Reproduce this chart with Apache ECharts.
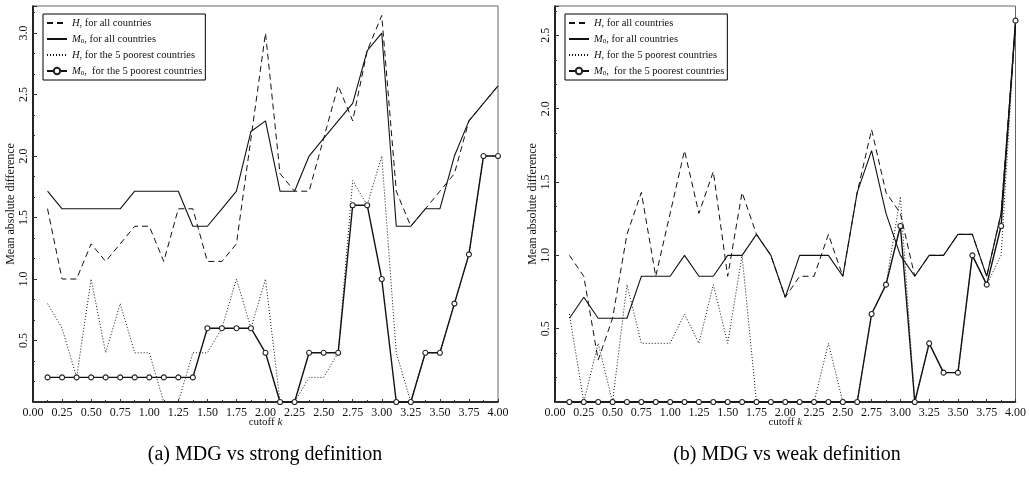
<!DOCTYPE html>
<html>
<head>
<meta charset="utf-8">
<title>Mean absolute difference by cutoff k</title>
<script src="https://cdn.jsdelivr.net/npm/echarts@6/dist/echarts.min.js"></script>
<style>
  html, body { margin: 0; padding: 0; background: #fff; }
  #chart { width: 1029px; height: 487px; }
</style>
</head>
<body>
<div id="chart"></div>
<script>
// Poverty cutoff k (x values shared by every series)
const cutoffs = [0.125, 0.25, 0.375, 0.5, 0.625, 0.75, 0.875, 1.0,
                 1.125, 1.25, 1.375, 1.5, 1.625, 1.75, 1.875, 2.0,
                 2.125, 2.25, 2.375, 2.5, 2.625, 2.75, 2.875, 3.0,
                 3.125, 3.25, 3.375, 3.5, 3.625, 3.75, 3.875, 4.0];

// (a) MDG vs strong definition
const hAllStrong = [1.571, 1.0, 1.0, 1.286, 1.143, 1.286, 1.429, 1.429,
                    1.143, 1.571, 1.571, 1.143, 1.143, 1.286, 2.143, 3.0,
                    1.857, 1.714, 1.714, 2.143, 2.571, 2.286, 2.857, 3.143,
                    1.714, 1.429, 1.571, 1.714, 1.857, 2.286, 2.429, 2.571];
const m0AllStrong = [1.714, 1.571, 1.571, 1.571, 1.571, 1.571, 1.714, 1.714,
                     1.714, 1.714, 1.429, 1.429, 1.571, 1.714, 2.2, 2.286,
                     1.714, 1.714, 2.0, 2.143, 2.286, 2.429, 2.857, 3.0,
                     1.429, 1.429, 1.571, 1.571, 2.0, 2.286, 2.429, 2.571];
const hPoorStrong = [0.8, 0.6, 0.2, 1.0, 0.4, 0.8, 0.4, 0.4,
                     0, 0, 0.4, 0.4, 0.6, 1.0, 0.6, 1.0,
                     0, 0, 0.2, 0.2, 0.4, 1.8, 1.6, 2.0,
                     0.4, 0, 0.4, 0.4, 0.8, 1.2, 2.0, 2.0];
const m0PoorStrong = [0.2, 0.2, 0.2, 0.2, 0.2, 0.2, 0.2, 0.2,
                      0.2, 0.2, 0.2, 0.6, 0.6, 0.6, 0.6, 0.4,
                      0, 0, 0.4, 0.4, 0.4, 1.6, 1.6, 1.0,
                      0, 0, 0.4, 0.4, 0.8, 1.2, 2.0, 2.0];

// (b) MDG vs weak definition
const hAllWeak = [1.0, 0.857, 0.286, 0.571, 1.143, 1.429, 0.857, 1.286,
                  1.714, 1.286, 1.571, 0.857, 1.429, 1.143, 1.0, 0.714,
                  0.857, 0.857, 1.143, 0.857, 1.429, 1.857, 1.429, 1.286,
                  0.857, 1.0, 1.0, 1.143, 1.143, 0.857, 1.286, 2.571];
const m0AllWeak = [0.571, 0.714, 0.571, 0.571, 0.571, 0.857, 0.857, 0.857,
                   1.0, 0.857, 0.857, 1.0, 1.0, 1.143, 1.0, 0.714,
                   1.0, 1.0, 1.0, 0.857, 1.429, 1.714, 1.286, 1.0,
                   0.857, 1.0, 1.0, 1.143, 1.143, 0.857, 1.286, 2.571];
const hPoorWeak = [0.6, 0, 0.4, 0, 0.8, 0.4, 0.4, 0.4,
                   0.6, 0.4, 0.8, 0.4, 1.0, 0, 0, 0,
                   0, 0, 0.4, 0, 0, 0.6, 0.8, 1.4,
                   0, 0.4, 0.2, 0.2, 1.0, 0.8, 1.0, 2.6];
const m0PoorWeak = [0, 0, 0, 0, 0, 0, 0, 0,
                    0, 0, 0, 0, 0, 0, 0, 0,
                    0, 0, 0, 0, 0, 0.6, 0.8, 1.2,
                    0, 0.4, 0.2, 0.2, 1.0, 0.8, 1.2, 2.6];

// Axis ticks and labels
const xTickStep = 0.25;
const yTickStep = 0.5;
const yMaxStrong = 3.22;
const yMaxWeak = 2.70;

// Series names and captions
const seriesNames = ['H, for all countries', 'M0, for all countries',
                     'H, for the 5 poorest countries', 'M0, for the 5 poorest countries'];
const legendRich = {
  'H, for all countries': '{i|H}, for all countries',
  'M0, for all countries': '{i|M}{s|0}, for all countries',
  'H, for the 5 poorest countries': '{i|H}, for the 5 poorest countries',
  'M0, for the 5 poorest countries': '{i|M}{s|0},  for the 5 poorest countries'
};
const captions = ['(a) MDG vs strong definition', '(b) MDG vs weak definition'];
const yTitle = 'Mean absolute difference';

const SERIF = 'Liberation Serif';
const INK = '#111';

const pairs = vals => cutoffs.map((k, i) => [k, vals[i]]);

const chart = echarts.init(document.getElementById('chart'), null, { renderer: 'canvas' });

const grids = [
  { left: 33, right: 531, top: 6, bottom: 85 },
  { left: 555, right: 10, top: 6, bottom: 85 }
];

function xAxisFor(idx) {
  return {
    type: 'value', gridIndex: idx, min: 0, max: 4, interval: xTickStep,
    name: 'cutoff {i|k}', nameLocation: 'middle', nameGap: 15, nameMoveOverlap: false,
    nameTextStyle: { fontFamily: SERIF, fontSize: 11, color: INK,
      rich: { i: { fontStyle: 'italic', fontFamily: SERIF, fontSize: 11, color: INK } } },
    axisLine: { onZero: false, lineStyle: { color: '#000', width: 1.6 } },
    axisTick: { inside: true, length: 3, lineStyle: { color: '#333' } },
    minorTick: { show: true, splitNumber: 2, length: 2, lineStyle: { color: '#333' } },
    splitLine: { show: false },
    axisLabel: { margin: 5, fontFamily: SERIF, fontSize: 12, color: INK,
      formatter: v => v.toFixed(2) }
  };
}

function yAxisFor(idx, max) {
  return {
    type: 'value', gridIndex: idx, min: 0, max: max, interval: yTickStep,
    name: yTitle, nameLocation: 'middle', nameRotate: 90, nameGap: 14,
    nameTextStyle: { fontFamily: SERIF, fontSize: 12, color: INK },
    axisLine: { onZero: false, lineStyle: { color: '#000', width: 1.6 } },
    axisTick: { inside: true, length: 4, lineStyle: { color: '#333' } },
    minorTick: { show: true, splitNumber: 3, length: 2, lineStyle: { color: '#333' } },
    splitLine: { show: false },
    axisLabel: { rotate: 90, margin: 3, fontFamily: SERIF, fontSize: 12, color: INK,
      formatter: v => {
        const r = Math.round(v / yTickStep) * yTickStep;
        if (v <= 0 || Math.abs(v - r) > 1e-6) return '';
        return v.toFixed(1);
      } }
  };
}

function seriesFor(idx, hAll, m0All, hPoor, m0Poor) {
  const base = { type: 'line', xAxisIndex: idx, yAxisIndex: idx, silent: true };
  return [
    Object.assign({}, base, {
      name: seriesNames[0], data: pairs(hAll), showSymbol: false, symbol: 'none',
      lineStyle: { color: INK, width: 1, type: [6, 4] }, itemStyle: { color: INK }
    }),
    Object.assign({}, base, {
      name: seriesNames[1], data: pairs(m0All), showSymbol: false, symbol: 'none',
      lineStyle: { color: INK, width: 1.1, type: 'solid' }, itemStyle: { color: INK }
    }),
    Object.assign({}, base, {
      name: seriesNames[2], data: pairs(hPoor), showSymbol: false, symbol: 'none',
      lineStyle: { color: INK, width: 1, type: [1, 2] }, itemStyle: { color: INK }
    }),
    Object.assign({}, base, {
      name: seriesNames[3], data: pairs(m0Poor), symbol: 'circle', symbolSize: 5,
      lineStyle: { color: INK, width: 1.4, type: 'solid' },
      itemStyle: { color: '#fff', borderColor: '#222', borderWidth: 1.1 }
    })
  ];
}

// Plain line keys for the first three entries, a marked line for the last
const legendItems = seriesNames.map((name, i) => i < 3
  ? { name: name, itemStyle: { opacity: 0 } }
  : { name: name });

function legendFor(left) {
  return {
    orient: 'vertical', left: left, top: 14,
    data: legendItems, itemWidth: 20, itemHeight: 8, itemGap: 4,
    padding: [3, 3, 3, 3],
    borderColor: '#000', borderWidth: 1, backgroundColor: '#fff',
    selectedMode: false,
    formatter: name => legendRich[name],
    textStyle: {
      fontFamily: SERIF, fontSize: 10.5, color: INK, lineHeight: 12,
      rich: {
        i: { fontStyle: 'italic', fontFamily: SERIF, fontSize: 10.5, color: INK },
        s: { fontFamily: SERIF, fontSize: 7, color: INK, verticalAlign: 'bottom', padding: [5, 0, 0, 0] }
      }
    }
  };
}

const option = {
  animation: false,
  backgroundColor: '#fff',
  grid: grids.map(g => Object.assign({ show: true, borderColor: '#666', borderWidth: 1, containLabel: false }, g)),
  xAxis: [xAxisFor(0), xAxisFor(1)],
  yAxis: [yAxisFor(0, yMaxStrong), yAxisFor(1, yMaxWeak)],
  legend: [legendFor(43), legendFor(565)],
  series: [
    ...seriesFor(0, hAllStrong, m0AllStrong, hPoorStrong, m0PoorStrong),
    ...seriesFor(1, hAllWeak, m0AllWeak, hPoorWeak, m0PoorWeak)
  ],
  graphic: [
    { type: 'text', x: 265, y: 455,
      style: { text: captions[0], font: '20px "Liberation Serif"', fill: '#000',
               textAlign: 'center', textVerticalAlign: 'middle' } },
    { type: 'text', x: 787, y: 455,
      style: { text: captions[1], font: '20px "Liberation Serif"', fill: '#000',
               textAlign: 'center', textVerticalAlign: 'middle' } }
  ]
};

chart.setOption(option);
</script>
</body>
</html>
